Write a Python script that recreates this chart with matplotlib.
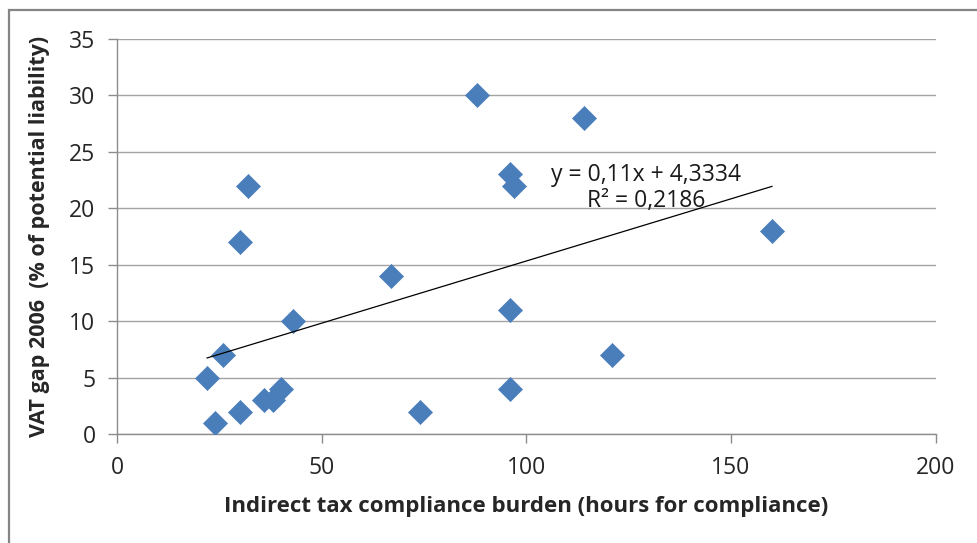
import numpy as np
import matplotlib
matplotlib.use("Agg")
import matplotlib.pyplot as plt
from matplotlib.patches import Rectangle

# compliance burden (hours) vs VAT gap 2006 (% of potential liability)
hours = [22, 24, 26, 30, 30, 32, 36, 38, 40, 43, 67, 74, 88,
         96, 96, 96, 97, 114, 121, 160]
vat_gap = [5, 1, 7, 2, 17, 22, 3, 3, 4, 10, 14, 2, 30,
           23, 11, 4, 22, 28, 7, 18]

# linear trendline as reported in the chart
slope = 0.11
intercept = 4.3334
r_squared = 0.2186

x_ticks = [0, 50, 100, 150, 200]
y_ticks = [0, 5, 10, 15, 20, 25, 30, 35]

plt.rcParams['font.family'] = ['Open Sans', 'DejaVu Sans']

fig = plt.figure(figsize=(9.77, 5.43), dpi=100)
ax = fig.add_axes([0.1198, 0.2002, 0.8379, 0.7285])

# outer chart frame (only top and left visible)
fig.patches.append(Rectangle((9 / 977, -0.1), 1.2, 1 - 10 / 543 + 0.1,
                             transform=fig.transFigure, fill=False,
                             edgecolor='#858585', linewidth=1.6))

ax.scatter(hours, vat_gap, marker='D', s=150, color='#4A7EBB',
           edgecolor='#4A7EBB', linewidth=0.5, zorder=3)

xs = np.array([min(hours), max(hours)])
ax.plot(xs, slope * xs + intercept, color='black', linewidth=0.9, zorder=4)

ax.text(129.3, 21.8, "y = 0,11x + 4,3334\nR² = 0,2186",
        ha='center', va='center', multialignment='center',
        fontsize=16.5, color='#1a1a1a', linespacing=1.15, zorder=5)

ax.set_xlim(0, 200)
ax.set_ylim(0, 35)
ax.set_xticks(x_ticks)
ax.set_yticks(y_ticks)
ax.yaxis.grid(True, color='#a3a3a3', linewidth=1)
ax.set_axisbelow(True)

for side in ['top', 'right']:
    ax.spines[side].set_visible(False)
for side in ['left', 'bottom']:
    ax.spines[side].set_color('#8c8c8c')
    ax.spines[side].set_linewidth(1)
ax.tick_params(axis='both', colors='#8c8c8c', length=6.5, width=1,
               labelsize=16.5, labelcolor='#262626')
ax.tick_params(axis='x', pad=9)
ax.tick_params(axis='y', pad=9)

ax.set_xlabel("Indirect tax compliance burden (hours for compliance)",
              fontsize=16, fontweight='bold', color='#262626', labelpad=12)
ax.set_ylabel("VAT gap 2006  (% of potential liability)",
              fontsize=15.5, fontweight='bold', color='#262626', labelpad=14)

fig.savefig("out.png", dpi=100)
